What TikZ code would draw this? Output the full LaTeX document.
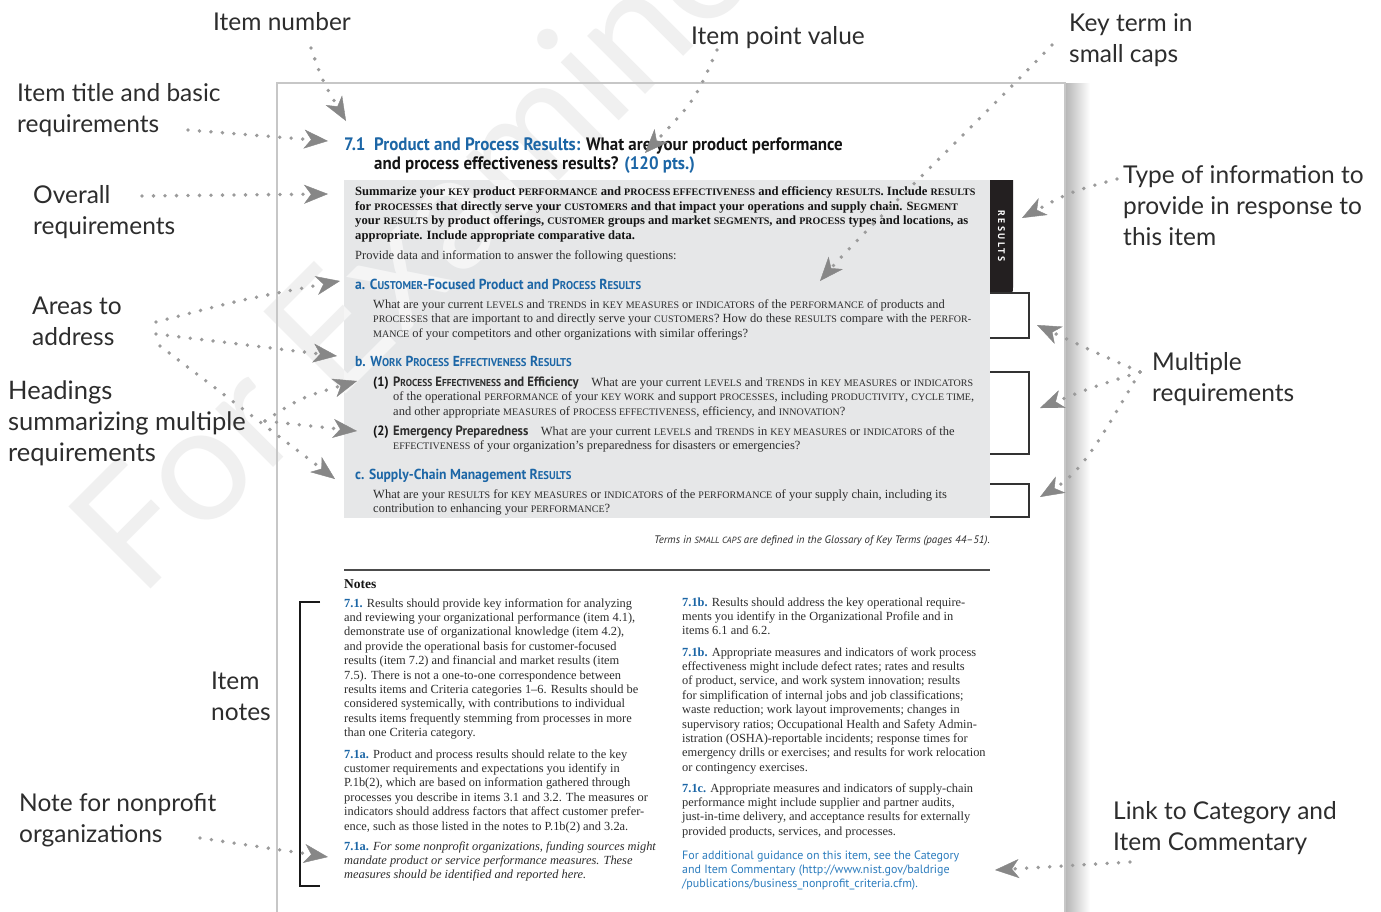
\documentclass[tikz,border=0pt]{standalone}
\usepackage{fontspec}
\usepackage{relsize}
\usetikzlibrary{arrows.meta}
\setmainfont{Liberation Serif}
\newfontfamily\lblfont{Lato}
\newfontfamily\cond{PT Sans}[FakeStretch=0.94]
\newfontfamily\psans{PT Sans}
\newfontfamily\tabfont{PT Sans}[LetterSpace=25]
\definecolor{blueT}{RGB}{28,102,166}
\definecolor{blueL}{RGB}{45,125,190}
\definecolor{boxgray}{RGB}{230,231,232}
\definecolor{dotgray}{RGB}{155,155,155}
\definecolor{tipgray}{RGB}{135,135,135}
\definecolor{tabblack}{RGB}{35,31,32}
\definecolor{ink}{RGB}{45,45,45}
\newcommand\K[1]{\textscale{0.78}{#1}}
\newcommand\Lines[1]{\vtop{\halign{##\hfil\cr#1\crcr}}}
\newcommand\Cd[1]{{\cond\bfseries\fontsize{13.5}{14}\selectfont #1}}
\tikzset{
  lbl/.style={font=\lblfont\fontsize{24.5}{31}\selectfont, text=ink, inner sep=0pt, anchor=base west},
  body/.style={font=\fontsize{12.4}{14.4}\selectfont, text=ink, inner sep=0pt, anchor=base west},
  boxtxt/.style={font=\fontsize{12.5}{14.5}\selectfont, text=ink, inner sep=0pt, anchor=base west},
  boldtxt/.style={font=\bfseries\fontsize{12.6}{14.5}\selectfont, text=black!92, inner sep=0pt, anchor=base west},
  hd/.style={font=\cond\bfseries\fontsize{14.5}{15}\selectfont, text=blueT, inner sep=0pt, anchor=base west},
  hdr/.style={font=\cond\bfseries\fontsize{18}{19}\selectfont, text=black!92, inner sep=0pt, anchor=base west},
  wm/.style={font=\lblfont\fontsize{162}{162}\selectfont, text=black!6, inner sep=0pt, anchor=base west, rotate=45},
  conn/.style={draw=dotgray, line width=3.8pt, line cap=round, dash pattern=on 0pt off 11.5pt,
    -{Stealth[length=24pt, width=19pt, inset=7pt, line width=0.4pt, color=tipgray]}},
  boxline/.style={draw=black!80, line width=1.3pt},
}
\begin{document}
\begin{tikzpicture}[x=1pt,y=-1pt]
\useasboundingbox (0,0) rectangle (1381,911);
\fill[white] (0,0) rectangle (1381,911);

% watermark
\node[wm] (wm) at (140,600) {For Examiner};

% page
\shade[left color=black!28, right color=white] (1066,83) rectangle (1090,911);
\draw[black!22, line width=2.5pt] (277,916) -- (277,83) -- (1065,83) -- (1065,916);

% gray requirements box
\fill[boxgray] (344,180) rectangle (990,518);
\begin{scope}
  \clip (344,180) rectangle (990,518);
  \node[wm, text=white, text opacity=0.6] (wm2) at (140,600) {For Examiner};
\end{scope}

% tab
\fill[tabblack] (990,180) -- (1013,180) -- (1013,287) .. controls (1013,293) .. (1007,293) -- (990,293) -- cycle;
\node[font=\tabfont\bfseries\fontsize{9.6}{9.6}\selectfont, text=white, rotate=-90, inner sep=0pt] (tab) at (1001.5,236) {RESULTS};

% requirement boxes
\draw[boxline] (990,293) -- (1029,293) -- (1029,338) -- (990,338);
\draw[boxline] (990,372) -- (1029,372) -- (1029,454) -- (990,454);
\draw[boxline] (990,484) -- (1029,484) -- (1029,517) -- (990,517);

% header
\node[hdr, text=blueT] (hnum) at (344,150) {7.1};
\node[hdr] (htitle) at (374,150) {\Lines{\textcolor{blueT}{Product and Process Results:} What are your product performance\cr
and process effectiveness results? \textcolor{blueT}{(120 pts.)}}};

% box content
\node[boldtxt] (req) at (355,195.5) {\Lines{Summarize your \K{KEY} product \K{PERFORMANCE} and \K{PROCESS EFFECTIVENESS} and efficiency \K{RESULTS}. Include \K{RESULTS}\cr
for \K{PROCESSES} that directly serve your \K{CUSTOMERS} and that impact your operations and supply chain. S\K{EGMENT}\cr
your \K{RESULTS} by product offerings, \K{CUSTOMER} groups and market \K{SEGMENTS}, and \K{PROCESS} types and locations, as\cr
appropriate. Include appropriate comparative data.}};
\node[boxtxt] (provide) at (355,259) {Provide data and information to answer the following questions:};

\node[hd] (ha) at (355,289) {a. C\K{USTOMER}-Focused Product and P\K{ROCESS} R\K{ESULTS}};
\node[boxtxt] (ta) at (373,308) {\Lines{What are your current \K{LEVELS} and \K{TRENDS} in \K{KEY MEASURES} or \K{INDICATORS} of the \K{PERFORMANCE} of products and\cr
\K{PROCESSES} that are important to and directly serve your \K{CUSTOMERS}? How do these \K{RESULTS} compare with the \K{PERFOR-}\cr
\K{MANCE} of your competitors and other organizations with similar offerings?}};

\node[hd] (hb) at (355,366) {b. W\K{ORK} P\K{ROCESS} E\K{FFECTIVENESS} R\K{ESULTS}};
\node[hd, text=black!92, font=\cond\bfseries\fontsize{13.5}{14}\selectfont] (n1) at (373,386) {(1)};
\node[boxtxt] (tb1) at (393,386) {\Lines{\Cd{P\K{ROCESS} E\K{FFECTIVENESS} and Efficiency}\quad What are your current \K{LEVELS} and \K{TRENDS} in \K{KEY MEASURES} or \K{INDICATORS}\cr
of the operational \K{PERFORMANCE} of your \K{KEY WORK} and support \K{PROCESSES}, including \K{PRODUCTIVITY}, \K{CYCLE TIME},\cr
and other appropriate \K{MEASURES} of \K{PROCESS EFFECTIVENESS}, efficiency, and \K{INNOVATION}?}};
\node[hd, text=black!92, font=\cond\bfseries\fontsize{13.5}{14}\selectfont] (n2) at (373,435) {(2)};
\node[boxtxt] (tb2) at (393,435) {\Lines{\Cd{Emergency Preparedness}\quad What are your current \K{LEVELS} and \K{TRENDS} in \K{KEY MEASURES} or \K{INDICATORS} of the\cr
\K{EFFECTIVENESS} of your organization’s preparedness for disasters or emergencies?}};

\node[hd] (hc) at (355,479) {c. Supply-Chain Management R\K{ESULTS}};
\node[boxtxt] (tc) at (373,498) {\Lines{What are your \K{RESULTS} for \K{KEY MEASURES} or \K{INDICATORS} of the \K{PERFORMANCE} of your supply chain, including its\cr
contribution to enhancing your \K{PERFORMANCE}?}};

\node[font=\psans\itshape\fontsize{10.9}{12}\selectfont, text=ink, inner sep=0pt, anchor=base east] (terms) at (990,543)
  {Terms in \K{SMALL CAPS} are defined in the Glossary of Key Terms (pages 44–51).};

\draw[black!70, line width=1.2pt] (344,570) -- (990,570);
\node[font=\bfseries\fontsize{13.5}{14}\selectfont, text=black!92, inner sep=0pt, anchor=base west] (notes) at (344,588) {Notes};

% left notes column
\node[body] (n71) at (344,607) {\Lines{\textcolor{blueT}{\textbf{7.1.}} Results should provide key information for analyzing\cr
and reviewing your organizational performance (item 4.1),\cr
demonstrate use of organizational knowledge (item 4.2),\cr
and provide the operational basis for customer-focused\cr
results (item 7.2) and financial and market results (item\cr
7.5). There is not a one-to-one correspondence between\cr
results items and Criteria categories 1–6. Results should be\cr
considered systemically, with contributions to individual\cr
results items frequently stemming from processes in more\cr
than one Criteria category.}};
\node[body] (n71a) at (344,758) {\Lines{\textcolor{blueT}{\textbf{7.1a.}} Product and process results should relate to the key\cr
customer requirements and expectations you identify in\cr
P.1b(2), which are based on information gathered through\cr
processes you describe in items 3.1 and 3.2. The measures or\cr
indicators should address factors that affect customer prefer-\cr
ence, such as those listed in the notes to P.1b(2) and 3.2a.}};
\node[body] (n71np) at (344,850) {\Lines{\textcolor{blueT}{\textbf{7.1a.}} \textit{For some nonprofit organizations, funding sources might}\cr
\textit{mandate product or service performance measures. These}\cr
\textit{measures should be identified and reported here.}}};

% right notes column
\node[body] (n71b) at (682,606) {\Lines{\textcolor{blueT}{\textbf{7.1b.}} Results should address the key operational require-\cr
ments you identify in the Organizational Profile and in\cr
items 6.1 and 6.2.}};
\node[body] (n71b2) at (682,656) {\Lines{\textcolor{blueT}{\textbf{7.1b.}} Appropriate measures and indicators of work process\cr
effectiveness might include defect rates; rates and results\cr
of product, service, and work system innovation; results\cr
for simplification of internal jobs and job classifications;\cr
waste reduction; work layout improvements; changes in\cr
supervisory ratios; Occupational Health and Safety Admin-\cr
istration (OSHA)-reportable incidents; response times for\cr
emergency drills or exercises; and results for work relocation\cr
or contingency exercises.}};
\node[body] (n71c) at (682,792) {\Lines{\textcolor{blueT}{\textbf{7.1c.}} Appropriate measures and indicators of supply-chain\cr
performance might include supplier and partner audits,\cr
just-in-time delivery, and acceptance results for externally\cr
provided products, services, and processes.}};
\node[font=\psans\fontsize{12}{14.4}\selectfont, text=blueL, inner sep=0pt, anchor=base west] (guid) at (682,859)
  {\Lines{For additional guidance on this item, see the Category\cr
and Item Commentary (http://www.nist.gov/baldrige\cr
/publications/business\_nonprofit\_criteria.cfm).}};

% item notes bracket
\draw[black!90, line width=1.5pt] (320,602) -- (300,602) -- (300,886) -- (320,886);

% labels
\node[lbl] (Lnum) at (213,30) {Item number};
\node[lbl] (Lpts) at (691,44) {Item point value};
\node[lbl] (Ltitle) at (17,101) {\Lines{Item title and basic\cr requirements}};
\node[lbl] (Lover) at (33,203) {\Lines{Overall\cr requirements}};
\node[lbl] (Larea) at (32,314) {\Lines{Areas to\cr address}};
\node[lbl, font=\lblfont\fontsize{25.5}{31}\selectfont] (Lhead) at (8,399) {\Lines{Headings\cr summarizing multiple\cr requirements}};
\node[lbl] (Lnotes) at (211,689) {\Lines{Item\cr notes}};
\node[lbl] (Lnp) at (19,811) {\Lines{Note for nonprofit\cr organizations}};
\node[lbl] (Lkey) at (1069,31) {\Lines{Key term in\cr small caps}};
\node[lbl] (Ltype) at (1123,183) {\Lines{Type of information to\cr provide in response to\cr this item}};
\node[lbl] (Lmult) at (1152,370) {\Lines{Multiple\cr requirements}};
\node[lbl] (Llink) at (1113,819) {\Lines{Link to Category and\cr Item Commentary}};

% connector end points
\coordinate (s1) at (311,48);   \coordinate (t1) at (346,121);
\coordinate (s2) at (188,130);  \coordinate (t2) at (328,141);
\coordinate (s3) at (142,196);  \coordinate (t3) at (328,194);
\coordinate (s4) at (717,50);   \coordinate (t4) at (645,153);
\coordinate (s5) at (1052,45);  \coordinate (t5) at (820,281);
\coordinate (s6) at (1117,179); \coordinate (t6) at (1022,218);
\coordinate (sm) at (1140,372);
\coordinate (t7a) at (1037,325); \coordinate (t7b) at (1040,408); \coordinate (t7c) at (1040,497);
\coordinate (sa) at (156,322);  \coordinate (sb) at (156,334); \coordinate (sc) at (160,346);
\coordinate (t8a) at (340,281); \coordinate (t8b) at (337,356); \coordinate (t8c) at (335,479);
\coordinate (sh) at (265,421);
\coordinate (t9a) at (357,381); \coordinate (t9b) at (357,431);
\coordinate (s10) at (200,838); \coordinate (t10) at (328,857);
\coordinate (s11) at (1130,862); \coordinate (t11) at (995,870);

% connectors
\draw[conn] (s1) .. controls (322,80) .. (t1);
\draw[conn] (s2) -- (t2);
\draw[conn] (s3) -- (t3);
\draw[conn] (s4) .. controls (695,100) .. (t4);
\draw[conn] (s5) .. controls (960,140) and (860,235) .. (t5);
\draw[conn] (s6) .. controls (1070,192) .. (t6);
\draw[conn] (sm) .. controls (1090,350) .. (t7a);
\draw[conn] (sm) .. controls (1090,388) .. (t7b);
\draw[conn] (sm) .. controls (1105,430) and (1085,470) .. (t7c);
\draw[conn] (sa) .. controls (240,300) .. (t8a);
\draw[conn] (sb) -- (t8b);
\draw[conn] (sc) -- (t8c);
\draw[conn] (sh) .. controls (300,398) .. (t9a);
\draw[conn] (sh) -- (t9b);
\draw[conn] (s10) -- (t10);
\draw[conn] (s11) -- (t11);
\end{tikzpicture}
\end{document}
